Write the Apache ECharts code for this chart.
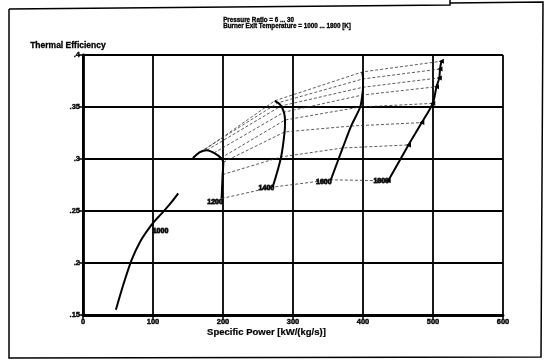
<!DOCTYPE html>
<html>
<head>
<meta charset="utf-8">
<script src="https://cdn.jsdelivr.net/npm/echarts@6/dist/echarts.min.js"></script>
<style>
html,body{margin:0;padding:0;background:#fff;}
#c{width:551px;height:362px;}
</style>
</head>
<body>
<div id="c"></div>
<script>
// ---- data ----
const xTicks = [0, 100, 200, 300, 400, 500, 600];
const yTicks = [0.15, 0.2, 0.25, 0.3, 0.35, 0.4];
const tempLabels = ['1000', '1200', '1400', '1600', '1800'];
const prLevels = ['6', '8', '10', '12', '15', '20', '25', '30'];
// constant burner exit temperature curves, points ordered by pressure ratio
const t1000 = [[47,0.155],[58,0.180],[69.5,0.203],[82,0.221],[96,0.235],[106,0.243],[117,0.251],[127,0.259],[136,0.267]];
const t1200 = [[198,0.262],[199.5,0.285],[200.5,0.297],[197,0.301],[187,0.3058],[177,0.3085],[167,0.3067],[157,0.301]];
const t1400 = [[271,0.273],[283,0.302],[288,0.326],[288.6,0.3375],[287,0.345],[283,0.351],[278.6,0.354],[274,0.356]];
const t1600 = [[354,0.280],[371,0.3106],[383,0.3317],[396,0.350],[399,0.3615],[400,0.369],[400,0.377],[399,0.3837]];
const t1800 = [[436,0.279],[465,0.3135],[484,0.335],[499.6,0.3535],[505,0.3695],[509,0.378],[510,0.3865],[512,0.394]];
// label anchor positions for the temperature curves
const labelPos = [[110.7,0.231],[188.6,0.259],[262,0.272],[344,0.278],[426,0.279]];

const chart = echarts.init(document.getElementById('c'), null, {renderer:'canvas'});
const F = 'Liberation Sans, Arial, sans-serif';
const tempCurves = [t1000, t1200, t1400, t1600, t1800];
const series = [];
// constant pressure ratio lines (thin dashed)
prLevels.forEach((pr, i) => {
  series.push({
    type:'line', name:'PR '+pr, data:[t1200[i], t1400[i], t1600[i], t1800[i]],
    showSymbol:false, silent:true,
    lineStyle:{color:'#333', width:0.8, type:[3,2]}, z:2
  });
});
tempCurves.forEach((d, k) => {
  series.push({
    type:'line', name:'T '+tempLabels[k], data:d, smooth:0.3,
    symbol: k===4 ? 'triangle' : 'none', symbolSize:5, symbolRotate:90,
    showSymbol: k===4, showAllSymbol:true,
    itemStyle:{color:'#000'},
    lineStyle:{color:'#000', width:2}, z:3
  });
});
series.push({
  type:'scatter', symbolSize:0, z:5,
  data: labelPos.map((p,k)=>[p[0],p[1],tempLabels[k]]),
  label:{show:true, position:'inside', formatter:p=>p.value[2],
    fontFamily:F, fontWeight:'bold', fontSize:7, color:'#000',
    textBorderColor:'#000', textBorderWidth:1}
});

const fmtY = v => String(+v.toFixed(2)).replace(/^0/, '');
chart.setOption({
  animation:false,
  backgroundColor:'#fff',
  grid:{left:83, right:48, top:55, bottom:47},
  xAxis:{type:'value', min:xTicks[0], max:xTicks[xTicks.length-1], interval:100,
    axisLine:{show:true, onZero:false, lineStyle:{color:'#000', width:2.8}},
    axisTick:{show:true, length:4, lineStyle:{color:'#000', width:1.5}},
    axisLabel:{color:'#000', fontFamily:F, fontWeight:'bold', fontSize:7.5, margin:3,
      textBorderColor:'#000', textBorderWidth:0.4},
    splitLine:{show:true, lineStyle:{color:'#000', width:1.8}}},
  yAxis:{type:'value', min:yTicks[0], max:yTicks[yTicks.length-1], interval:0.05,
    axisLine:{show:true, onZero:false, lineStyle:{color:'#000', width:2.8}},
    axisTick:{show:true, length:4, lineStyle:{color:'#000', width:1.5}},
    axisLabel:{color:'#000', fontFamily:F, fontWeight:'bold', fontSize:7.5, margin:3, formatter:fmtY,
      textBorderColor:'#000', textBorderWidth:0.4},
    splitLine:{show:true, lineStyle:{color:'#000', width:1.8}}},
  graphic:[
    {type:'polyline', shape:{points:[[9,9],[450,5],[450,0]]}, style:{stroke:'#000', lineWidth:1.5, fill:null}},
    {type:'polyline', shape:{points:[[450,3],[543,2],[541,357],[9,358],[9,9]]}, style:{stroke:'#000', lineWidth:1.5, fill:null}},
    {type:'text', left:30, top:41, style:{text:'Thermal Efficiency', font:'bold 8.5px '+F, fill:'#000', stroke:'#000', lineWidth:0.3}},
    {type:'text', left:223, top:17, style:{text:'Pressure Ratio = '+prLevels[0]+' ... '+prLevels[prLevels.length-1], font:'bold 6.3px '+F, fill:'#000', stroke:'#000', lineWidth:0.3}},
    {type:'text', left:223, top:23.5, style:{text:'Burner Exit Temperature = '+tempLabels[0]+' ... '+tempLabels[tempLabels.length-1]+' [K]', font:'bold 6.3px '+F, fill:'#000', stroke:'#000', lineWidth:0.3}},
    {type:'text', left:207, top:327, style:{text:'Specific Power [kW/(kg/s)]', font:'bold 9.5px '+F, fill:'#000', stroke:'#000', lineWidth:0.2}}
  ],
  series:series
});
</script>
</body>
</html>
